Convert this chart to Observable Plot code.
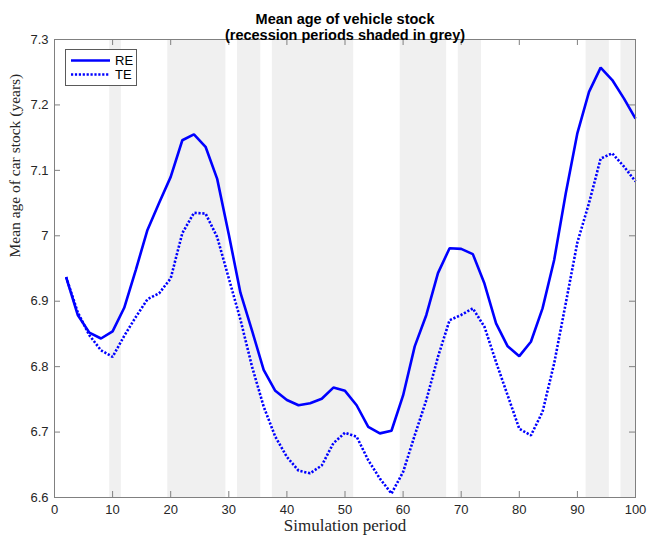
<!DOCTYPE html>
<html>
<head>
<meta charset="utf-8">
<script src="https://cdn.jsdelivr.net/npm/d3@7"></script>
<script src="https://cdn.jsdelivr.net/npm/@observablehq/plot@0.6"></script>
<style>
  html, body { margin: 0; padding: 0; background: #fff; }
</style>
</head>
<body>
<div id="chart"></div>
<script>
// ---- data ----
const periods = [2,4,6,8,10,12,14,16,18,20,22,24,26,28,30,32,34,36,38,40,42,44,46,48,50,52,54,56,58,60,62,64,66,68,70,72,74,76,78,80,82,84,86,88,90,92,94,96,98,100];
const reValues = [6.937,6.879,6.852,6.843,6.854,6.890,6.948,7.009,7.050,7.090,7.146,7.155,7.136,7.087,7.002,6.913,6.855,6.795,6.763,6.749,6.741,6.744,6.751,6.768,6.763,6.741,6.708,6.698,6.702,6.756,6.831,6.879,6.943,6.981,6.980,6.972,6.927,6.866,6.831,6.816,6.838,6.889,6.963,7.065,7.157,7.220,7.257,7.238,7.210,7.179];
const teValues = [6.937,6.883,6.848,6.825,6.815,6.847,6.876,6.903,6.912,6.935,7.004,7.035,7.034,6.998,6.935,6.872,6.800,6.739,6.693,6.662,6.641,6.637,6.649,6.683,6.699,6.693,6.657,6.629,6.606,6.639,6.695,6.749,6.815,6.871,6.879,6.889,6.861,6.807,6.756,6.705,6.695,6.731,6.805,6.897,6.990,7.050,7.118,7.126,7.106,7.083];
const recessionStart = [9.5, 19.5, 31.5, 37.5, 59.5, 69.5, 91.5, 97.5];
const recessionEnd   = [11.5, 29.5, 35.5, 51.5, 67.5, 73.5, 95.5, 100];
const xTicks = [0,10,20,30,40,50,60,70,80,90,100];
const yTicks = [6.6,6.7,6.8,6.9,7.0,7.1,7.2,7.3];
const seriesNames = ["RE", "TE"];
const titleLines = ["Mean age of vehicle stock", "(recession periods shaded in grey)"];
const xLabel = "Simulation period";
const yLabel = "Mean age of car stock (years)";

// ---- tables ----
const data = periods.map((p, i) => ({period: p, re: reValues[i], te: teValues[i]}));
const recessions = recessionStart.map((s, i) => ({start: s, end: recessionEnd[i]}));

// ---- layout ----
const W = 648, H = 538;
const mL = 54, mR = 13, mT = 39, mB = 41;
const innerW = W - mL - mR, innerH = H - mT - mB;
const blue = "#0000ff";
const axisGrey = "#808080";
const textDark = "#262626";
const sans = "'Liberation Sans', Arial, sans-serif";
const serif = "'Liberation Serif', 'Times New Roman', serif";
const dots = "2.2,1.7";

const chart = Plot.plot({
  width: W, height: H,
  marginLeft: mL, marginRight: mR, marginTop: mT, marginBottom: mB,
  x: {domain: [0, 100]},
  y: {domain: [6.6, 7.3]},
  style: {fontFamily: sans, fontSize: "13px", color: textDark, background: "#fff", overflow: "visible"},
  marks: [
    Plot.rect(recessions, {x1: "start", x2: "end", fill: "#f0f0f0"}),
    Plot.line(data, {x: "period", y: "re", stroke: blue, strokeWidth: 2.6, strokeLinejoin: "miter", strokeLinecap: "butt"}),
    Plot.line(data, {x: "period", y: "te", stroke: blue, strokeWidth: 2.6, strokeDasharray: dots, strokeLinecap: "butt", strokeLinejoin: "miter"}),
    Plot.frame({stroke: axisGrey, strokeWidth: 1}),
    // inward ticks, bottom/top
    Plot.tickX(xTicks, {x: d => d, stroke: axisGrey, insetTop: innerH - 6}),
    Plot.tickX(xTicks, {x: d => d, stroke: axisGrey, insetBottom: innerH - 6}),
    // inward ticks, left/right
    Plot.tickY(yTicks, {y: d => d, stroke: axisGrey, insetRight: innerW - 6}),
    Plot.tickY(yTicks, {y: d => d, stroke: axisGrey, insetLeft: innerW - 6}),
    Plot.axisX(xTicks, {tickSize: 0, tickPadding: 7, label: null, tickFormat: d => String(d), fill: textDark}),
    Plot.axisY(yTicks, {tickSize: 0, tickPadding: 6, label: null, tickFormat: d => String(+d.toFixed(1)), fill: textDark}),
    // titles & labels
    Plot.text([titleLines[0]], {text: d => d, frameAnchor: "top", dy: -26, fontWeight: "bold", fontSize: 14.5, fill: "#000"}),
    Plot.text([titleLines[1]], {text: d => d, frameAnchor: "top", dy: -10, fontWeight: "bold", fontSize: 14.5, fill: "#000"}),
    Plot.text([xLabel], {text: d => d, frameAnchor: "bottom", dy: 33, fontFamily: serif, fontSize: 17, fill: textDark}),
    Plot.text([yLabel], {text: d => d, frameAnchor: "left", dx: -39, dy: -11, rotate: -90, fontFamily: serif, fontSize: 15.5, fill: textDark})
  ]
});

document.getElementById("chart").appendChild(chart);

// ---- legend (inside plot, top-left) ----
const svg = d3.select(chart);
const lg = svg.append("g").attr("class", "legend");
lg.append("rect")
  .attr("x", 65.5).attr("y", 49.5).attr("width", 71).attr("height", 36)
  .attr("fill", "#fff").attr("stroke", "#5a5a5a").attr("stroke-width", 1);
const styles = [{dash: null}, {dash: dots}];
seriesNames.forEach((name, i) => {
  const cy = 60.5 + i * 14;
  lg.append("line")
    .attr("x1", 71).attr("x2", 110).attr("y1", cy).attr("y2", cy)
    .attr("stroke", blue).attr("stroke-width", 2.6)
    .attr("stroke-dasharray", styles[i].dash);
  lg.append("text")
    .attr("x", 115).attr("y", cy).attr("dy", "0.35em")
    .attr("text-anchor", "start")
    .attr("font-family", sans)
    .attr("font-size", 13).attr("fill", "#000")
    .text(name);
});
</script>
</body>
</html>
